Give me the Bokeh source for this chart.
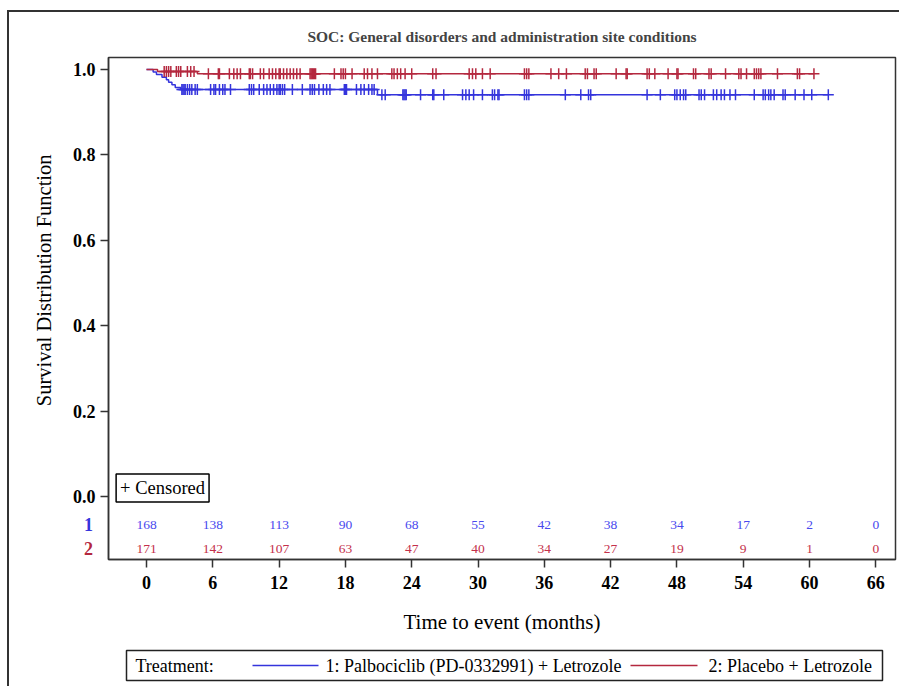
import numpy as np
from bokeh.plotting import figure
from bokeh.models import (Range1d, FixedTicker, Label, ColumnDataSource, PrintfTickFormatter)
from bokeh.layouts import column
from bokeh.embed import file_html
from bokeh.resources import INLINE
from bokeh.core.properties import value

# ---------------- data ----------------
title_text = "SOC: General disorders and administration site conditions"
x_label = "Time to event (months)"
y_label = "Survival Distribution Function"
legend_title = "Treatment:"
group_labels = ["1: Palbociclib (PD-0332991) + Letrozole", "2: Placebo + Letrozole"]
group_ids = ["1", "2"]

risk_times = [0, 6, 12, 18, 24, 30, 36, 42, 48, 54, 60, 66]
risk_1 = [168, 138, 113, 90, 68, 55, 42, 38, 34, 17, 2, 0]
risk_2 = [171, 142, 107, 63, 47, 40, 34, 27, 19, 9, 1, 0]
y_ticks = [0.0, 0.2, 0.4, 0.6, 0.8, 1.0]

# Kaplan-Meier step curves (time in months, survival)
step_t_1 = [0, 0.6, 0.9, 1.4, 1.8, 2.0, 2.3, 2.6, 3.1, 20.9, 61.7]
step_s_1 = [1.0, 0.994, 0.988, 0.982, 0.976, 0.970, 0.964, 0.958, 0.953, 0.941, 0.941]
step_t_2 = [0, 1.0, 4.6, 60.4]
step_s_2 = [1.0, 0.995, 0.990, 0.990]

# censoring times (months)
cens_t_1 = [3.2, 3.3, 3.4, 3.5, 3.7, 3.9, 4.1, 4.4, 4.6, 5.8, 6.1, 6.25, 6.6, 6.9, 7.1, 7.6,
            9.3, 9.5, 9.7, 10.2, 10.6, 10.9, 11.2, 11.5, 11.8, 12.0, 12.1, 12.3, 12.5, 13.2,
            14.1, 14.8, 15.0, 15.2, 15.6, 16.0, 16.3, 16.6, 17.9, 18.0, 18.1, 19.0, 19.4,
            19.7, 20.1, 20.4, 20.6, 21.3, 21.6, 23.2, 23.3, 23.4, 23.5, 24.8, 25.9, 26.0,
            26.9, 28.6, 28.9, 29.2, 29.6, 30.4, 31.3, 31.5, 31.8, 31.9, 34.2, 34.4, 34.6,
            37.9, 39.3, 40.0, 40.2, 45.3, 46.5, 47.8, 48.0, 48.3, 48.6, 48.8, 50.0, 50.2,
            50.5, 51.3, 51.6, 52.0, 52.3, 52.8, 53.3, 55.0, 55.8, 56.0, 56.3, 56.5, 56.8,
            57.6, 57.8, 58.7, 59.5, 60.2, 61.7]
cens_t_2 = [1.6, 1.8, 2.0, 2.2, 2.7, 2.9, 3.1, 3.7, 4.0, 4.3, 5.6, 6.5, 6.6, 7.5, 7.9, 8.2,
            8.5, 9.3, 9.4, 9.6, 10.3, 10.6, 11.1, 11.4, 11.7, 12.0, 12.1, 12.4, 12.7, 13.0,
            13.3, 13.6, 13.9, 14.8, 14.9, 15.0, 15.1, 15.2, 15.3, 17.0, 17.6, 17.8, 18.0,
            18.6, 19.7, 20.0, 20.4, 20.9, 22.2, 22.4, 22.7, 23.0, 23.4, 24.0, 25.9, 26.2,
            29.2, 29.5, 29.8, 30.4, 31.1, 34.2, 34.4, 34.6, 36.6, 37.3, 38.0, 39.7, 39.9,
            40.5, 40.7, 42.5, 43.4, 43.5, 45.3, 45.5, 46.0, 47.2, 48.0, 48.1, 49.5, 49.7,
            50.9, 51.1, 52.4, 53.6, 53.8, 54.3, 55.0, 55.2, 55.4, 55.6, 57.1, 58.9, 59.1,
            60.4]

# ---------------- styles ----------------
FONT = "Liberation Serif"
BLUE = "#3434dc"
RED = "#b4283f"
BLUE_TXT = "#4848ee"
RED_TXT = "#c4304a"
NB = "\u00a0"
X0, X1 = -3.44, 67.78


def surv_at(times, st, ss):
    idx = np.searchsorted(np.array(st), np.array(times), side="right") - 1
    return np.array(ss)[idx]


p = figure(width=890, height=633,
           x_range=Range1d(X0, X1), y_range=Range1d(-0.1475, 1.028),
           output_backend="svg", toolbar_location=None,
           min_border_left=99, min_border_right=4, min_border_top=45, min_border_bottom=86)
p.frame_align = False
p.grid.visible = False
p.outline_line_color = "#333333"
p.outline_line_width = 1.5
p.background_fill_color = "white"
p.border_fill_color = "white"

p.title.text = title_text
p.title.align = "center"
p.title.text_font = FONT
p.title.text_font_size = "15.5px"
p.title.text_font_style = "bold"
p.title.standoff = 26

for ax in (p.xaxis[0], p.yaxis[0]):
    ax.axis_line_color = "#333333"
    ax.axis_line_width = 1.5
    ax.major_tick_out = 8
    ax.major_tick_in = 0
    ax.major_tick_line_width = 1.5
    ax.major_tick_line_color = "#333333"
    ax.minor_tick_out = 0
    ax.minor_tick_in = 0
    ax.major_label_text_font = FONT
    ax.major_label_text_font_size = "18px"
    ax.major_label_text_font_style = "bold"
    ax.major_label_text_color = "black"
    ax.axis_label_text_font = FONT
    ax.axis_label_text_font_size = "20.5px"
    ax.axis_label_text_font_style = "normal"
    ax.axis_label_text_color = "black"
p.xaxis[0].axis_label_text_font_size = "21px"

p.xaxis[0].ticker = FixedTicker(ticks=risk_times)
p.xaxis[0].axis_label = x_label
p.xaxis[0].major_label_standoff = 8
p.xaxis[0].axis_label_standoff = 18
p.yaxis[0].ticker = FixedTicker(ticks=y_ticks)
p.yaxis[0].formatter = PrintfTickFormatter(format="%.1f")
p.yaxis[0].axis_label = NB * 11 + y_label
p.yaxis[0].major_label_standoff = 5
p.yaxis[0].axis_label_standoff = 15

# survival curves with censor marks
for st, ss, ct, col in ((step_t_1, step_s_1, cens_t_1, BLUE), (step_t_2, step_s_2, cens_t_2, RED)):
    p.step(x=st, y=ss, mode="after", line_color=col, line_width=1.5)
    p.scatter(x=ct, y=surv_at(ct, st, ss), marker="cross", size=11,
              line_color=col, line_width=1.5)

# number at risk rows
row_y = [-0.0656, -0.1218]
for vals, yy, col in ((risk_1, row_y[0], BLUE_TXT), (risk_2, row_y[1], RED_TXT)):
    src = ColumnDataSource(dict(x=risk_times, y=[yy] * len(risk_times), t=[str(v) for v in vals]))
    p.text(x="x", y="y", text="t", source=src, text_align="center", text_baseline="middle",
           text_font=value(FONT), text_font_size="13.5px", text_color=col)

# row labels in the left side panel
for gid, yy, col in zip(group_ids, row_y, (BLUE, RED)):
    p.add_layout(Label(x=-4.85, y=yy, text=gid, text_align="right", text_baseline="middle",
                       text_font=FONT, text_font_size="18px", text_font_style="bold",
                       text_color=col), "left")

p.add_layout(Label(x=-2.75, y=0.02, text="+ Censored", text_align="left", text_baseline="middle",
                   text_font=FONT, text_font_size="18.5px", text_color="black",
                   border_line_color="black", border_line_width=1.5,
                   background_fill_color="white", padding=4))

# legend strip
leg = figure(width=890, height=41, x_range=Range1d(0, 756), y_range=Range1d(0, 30),
             output_backend="svg", toolbar_location=None,
             x_axis_location=None, y_axis_location=None,
             min_border_left=117, min_border_right=17, min_border_top=5, min_border_bottom=6)
leg.frame_align = False
leg.grid.visible = False
leg.outline_line_color = "#222222"
leg.outline_line_width = 1.5
leg.border_fill_color = "white"
leg.segment(x0=[126, 504], x1=[192, 571], y0=[15, 15], y1=[15, 15],
            line_color=[BLUE, RED], line_width=1.5)
leg.text(x=[9, 199, 582], y=[14.5, 14.5, 14.5],
         text=[legend_title, group_labels[0], group_labels[1]],
         text_align="left", text_baseline="middle",
         text_font=value(FONT), text_font_size="18px", text_color="black")

layout = column(p, leg, styles={"margin-left": "7px", "margin-top": "10px",
                                "border-left": "2px solid #333333",
                                "border-top": "2px solid #333333"})

open("out.html", "w").write(file_html(layout, INLINE))
